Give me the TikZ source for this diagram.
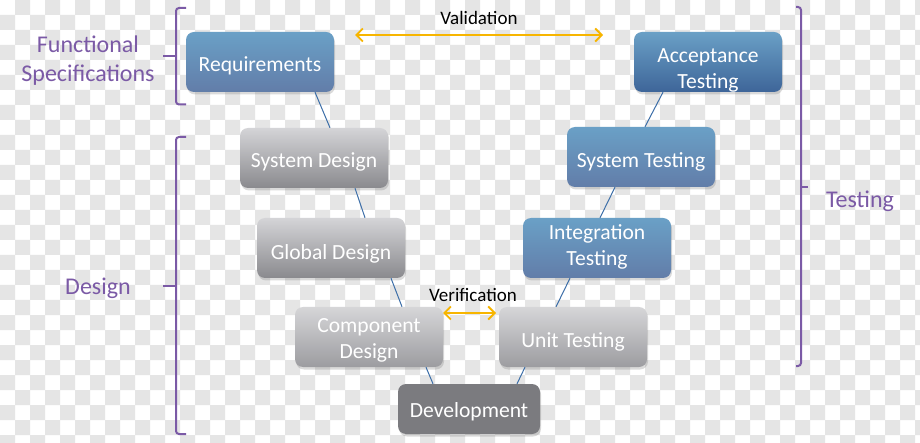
\documentclass[tikz,border=0pt]{standalone}
\usepackage{fontspec}
\setmainfont{Carlito}
\usetikzlibrary{arrows.meta,shadows}
\definecolor{chk}{HTML}{E5E5E5}
\definecolor{purp}{HTML}{7B5AA6}
\definecolor{orng}{HTML}{F7B500}
\definecolor{conn}{HTML}{3C6EA8}
\definecolor{bluetop}{HTML}{6AA0C6}
\definecolor{bluebot}{HTML}{627DA9}
\definecolor{accbot}{HTML}{3E6599}
\definecolor{graytop}{HTML}{D4D4D7}
\definecolor{graybot}{HTML}{8A8A8E}
\definecolor{lgtop}{HTML}{D6D6D8}
\definecolor{lgbot}{HTML}{9C9CA0}
\definecolor{devgray}{HTML}{7B7B7F}
\newcommand{\bxt}[2][4pt]{\raisebox{-#1}[\height][\depth]{\begin{tabular}{@{}c@{}}#2\end{tabular}}}
\begin{document}
\begin{tikzpicture}[x=1pt,y=-1pt,
  vbox/.style={rounded corners=8pt, minimum width=148pt, minimum height=60pt,
    align=center, text=white, inner sep=2pt,
    font=\fontsize{21.6}{26}\selectfont,
    drop shadow={opacity=0.28,shadow xshift=1pt,shadow yshift=-2.5pt}},
  bluebox/.style={vbox, top color=bluetop, bottom color=bluebot},
  accbox/.style={vbox, top color=bluetop, bottom color=accbot},
  graybox/.style={vbox, top color=graytop, bottom color=graybot},
  lgbox/.style={vbox, top color=lgtop, bottom color=lgbot},
  devbox/.style={vbox, fill=devgray, minimum width=142pt, minimum height=50pt},
  conline/.style={draw=conn, line width=1pt},
  vvarrow/.style={draw=orng, line width=1.8pt,
    {Straight Barb[length=6.5pt,width=13pt]}-{Straight Barb[length=6.5pt,width=13pt]}},
  vvlabel/.style={text=black, font=\fontsize{19}{22}\selectfont, inner sep=0pt},
  phase/.style={text=purp, align=center, font=\fontsize{24}{29}\selectfont, inner sep=0pt},
  bracestyle/.style={draw=purp, line width=2pt, rounded corners=3pt}
]
\useasboundingbox (0,0) rectangle (920,443);
% checkerboard background
\begin{scope}
\clip (0,0) rectangle (920,443);
\fill[white] (0,0) rectangle (920,443);
\fill[chk]
  \foreach \x in {0,30,...,900} { \foreach \y in {15,45,...,435} { (\x,\y) rectangle ++(15,15) } }
  \foreach \x in {15,45,...,915} { \foreach \y in {0,30,...,420} { (\x,\y) rectangle ++(15,15) } };
\end{scope}

% boxes
\node[bluebox] (req) at (260,62) {\bxt[4pt]{Requirements}};
\node[accbox]  (acc) at (708,62) {\bxt[8pt]{Acceptance\\Testing}};
\node[graybox] (sysd) at (314,158) {\bxt[4pt]{System Design}};
\node[bluebox] (syst) at (641,157) {\bxt[5pt]{System Testing}};
\node[graybox] (glob) at (331,248) {\bxt[6.5pt]{Global Design}};
\node[bluebox] (integ) at (597,248) {\bxt[-1pt]{Integration\\Testing}};
\node[lgbox]   (comp) at (369,337) {\bxt[3pt]{Component\\Design}};
\node[lgbox]   (unit) at (573,337) {\bxt[5pt]{Unit Testing}};
\node[devbox]  (dev) at (469,409) {\bxt[3pt]{Development}};

% connectors
\draw[conline] ([xshift=55pt]req.south) -- ([xshift=16pt]sysd.north);
\draw[conline] ([xshift=41pt]sysd.south) -- ([xshift=34pt]glob.north);
\draw[conline] ([xshift=60pt]glob.south) -- ([xshift=33pt]comp.north);
\draw[conline] ([xshift=57pt]comp.south) -- ([xshift=-36pt]dev.north);
\draw[conline] ([xshift=48pt]dev.north) -- ([xshift=-48pt]unit.south);
\draw[conline] ([xshift=-17pt]unit.north) -- ([xshift=-27pt]integ.south);
\draw[conline] ([xshift=3pt]integ.north) -- ([xshift=-26pt]syst.south);
\draw[conline] ([xshift=4pt]syst.north) -- ([xshift=-45pt]acc.south);

% validation / verification
\coordinate (valL) at (355,35);
\coordinate (valR) at (603,35);
\draw[vvarrow] (valL) -- (valR);
\node[vvlabel] (valtxt) at (479,17.5) {Validation};
\coordinate (verL) at (443,313);
\coordinate (verR) at (496,313);
\draw[vvarrow] (verL) -- (verR);
\node[vvlabel] (vertxt) at (473,295.5) {Verification};

% phase labels
\node[phase] (fs) at (88,61) {Functional\\Specifications};
\node[phase] (des) at (98,288) {Design};
\node[phase] (tst) at (860,201) {Testing};

% braces
\draw[bracestyle] (186,8) -- (176,8) -- (176,104.5) -- (186,104.5);
\draw[draw=purp, line width=2pt] (163,56.5) -- (176,56.5);
\draw[bracestyle] (186,137) -- (176,137) -- (176,434) -- (186,434);
\draw[draw=purp, line width=2pt] (163,286) -- (176,286);
\draw[bracestyle] (796,7) -- (801,7) -- (801,366) -- (796,366);
\draw[draw=purp, line width=2pt] (801,187) -- (808,187);
\end{tikzpicture}
\end{document}
